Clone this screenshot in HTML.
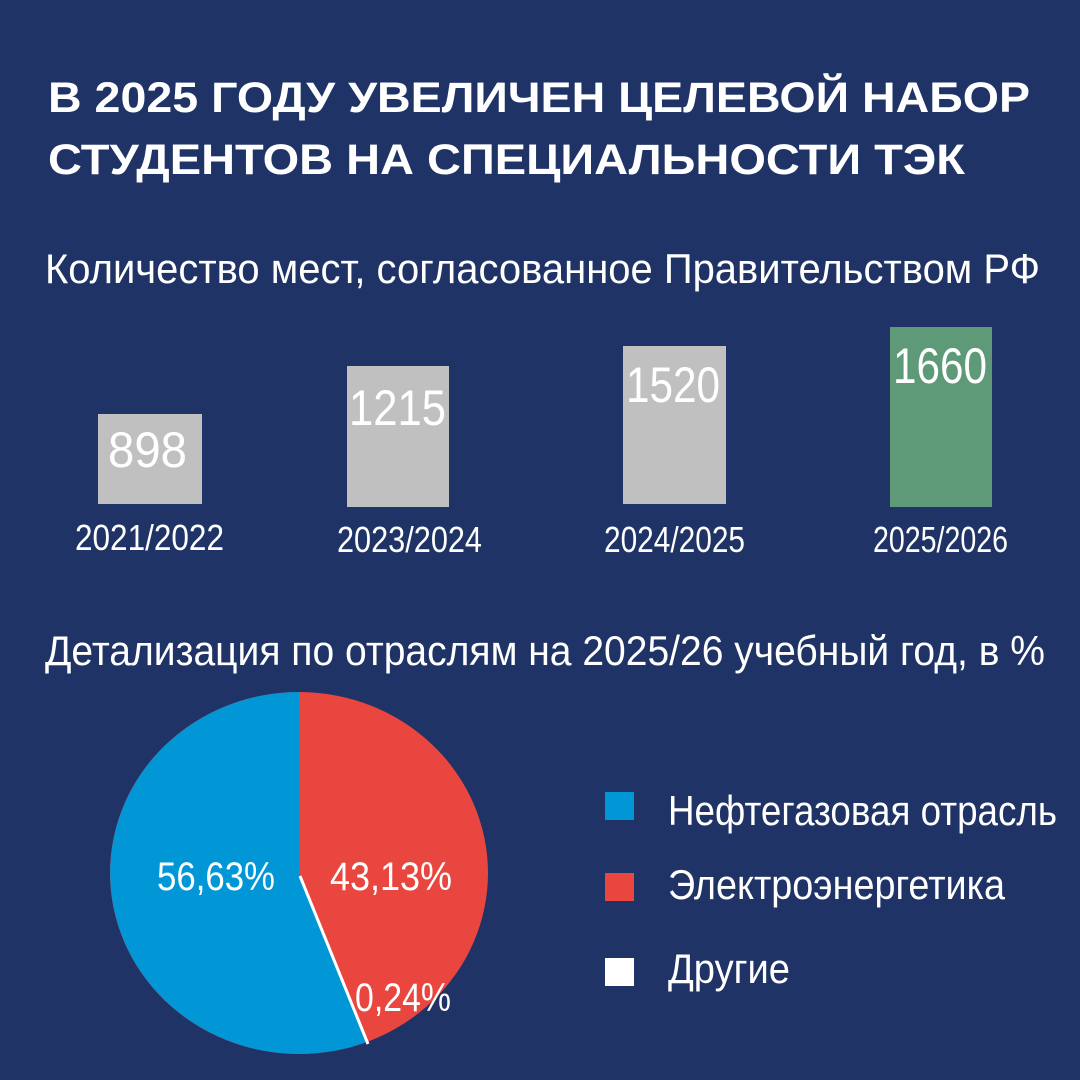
<!DOCTYPE html>
<html><head><meta charset="utf-8"><style>
html,body{margin:0;padding:0;background:#1f3366;}
svg{display:block}
text{font-family:"Liberation Sans",sans-serif;fill:#fff}
.t{font-weight:bold;font-size:43px}
.l{font-weight:normal;font-size:42px}
</style></head><body>
<svg width="1080" height="1080" viewBox="0 0 1080 1080">
<rect width="1080" height="1080" fill="#1f3366"/>
<text class="t" x="48" y="112" textLength="982" lengthAdjust="spacingAndGlyphs">В 2025 ГОДУ УВЕЛИЧЕН ЦЕЛЕВОЙ НАБОР</text>
<text class="t" x="48" y="174" textLength="917" lengthAdjust="spacingAndGlyphs">СТУДЕНТОВ НА СПЕЦИАЛЬНОСТИ ТЭК</text>
<text class="l" x="45" y="283" textLength="995" lengthAdjust="spacingAndGlyphs">Количество мест, согласованное Правительством РФ</text>

<rect x="98" y="414" width="104" height="90" fill="#c0c0c0"/>
<rect x="347" y="366" width="102" height="141" fill="#c0c0c0"/>
<rect x="623" y="346" width="103" height="158" fill="#c0c0c0"/>
<rect x="890" y="327" width="102" height="180" fill="#5f9a78"/>
<text x="108" y="467" font-size="50" textLength="79" lengthAdjust="spacingAndGlyphs">898</text>
<text x="349" y="425" font-size="50" textLength="97" lengthAdjust="spacingAndGlyphs">1215</text>
<text x="626" y="402" font-size="50" textLength="94" lengthAdjust="spacingAndGlyphs">1520</text>
<text x="893" y="383" font-size="50" textLength="94" lengthAdjust="spacingAndGlyphs">1660</text>
<text x="75" y="550" font-size="36" textLength="149" lengthAdjust="spacingAndGlyphs">2021/2022</text>
<text x="337" y="552" font-size="36" textLength="145" lengthAdjust="spacingAndGlyphs">2023/2024</text>
<text x="604" y="552" font-size="36" textLength="141" lengthAdjust="spacingAndGlyphs">2024/2025</text>
<text x="873" y="552" font-size="36" textLength="135" lengthAdjust="spacingAndGlyphs">2025/2026</text>

<text class="l" x="45" y="665" textLength="1000" lengthAdjust="spacingAndGlyphs">Детализация по отраслям на 2025/26 учебный год, в %</text>

<ellipse cx="299" cy="873" rx="189" ry="181" fill="#e8463f"/>
<path d="M299 873 L299 692 A189 181 0 1 0 366.8 1042 Z" fill="#0196d6"/>
<line x1="300" y1="876" x2="368" y2="1044" stroke="#fff" stroke-width="3"/>
<text x="157" y="890" font-size="40" textLength="118" lengthAdjust="spacingAndGlyphs">56,63%</text>
<text x="330" y="890" font-size="40" textLength="122" lengthAdjust="spacingAndGlyphs">43,13%</text>
<text x="355" y="1011" font-size="40" textLength="96" lengthAdjust="spacingAndGlyphs">0,24%</text>

<rect x="605" y="792" width="29" height="28" fill="#0196d6"/>
<rect x="605" y="873" width="29" height="28" fill="#e8463f"/>
<rect x="605" y="958" width="29" height="28" fill="#ffffff"/>
<text x="668" y="825" font-size="42" textLength="389" lengthAdjust="spacingAndGlyphs">Нефтегазовая отрасль</text>
<text x="668" y="899" font-size="42" textLength="337" lengthAdjust="spacingAndGlyphs">Электроэнергетика</text>
<text x="668" y="983" font-size="42" textLength="122" lengthAdjust="spacingAndGlyphs">Другие</text>
</svg>
</body></html>
